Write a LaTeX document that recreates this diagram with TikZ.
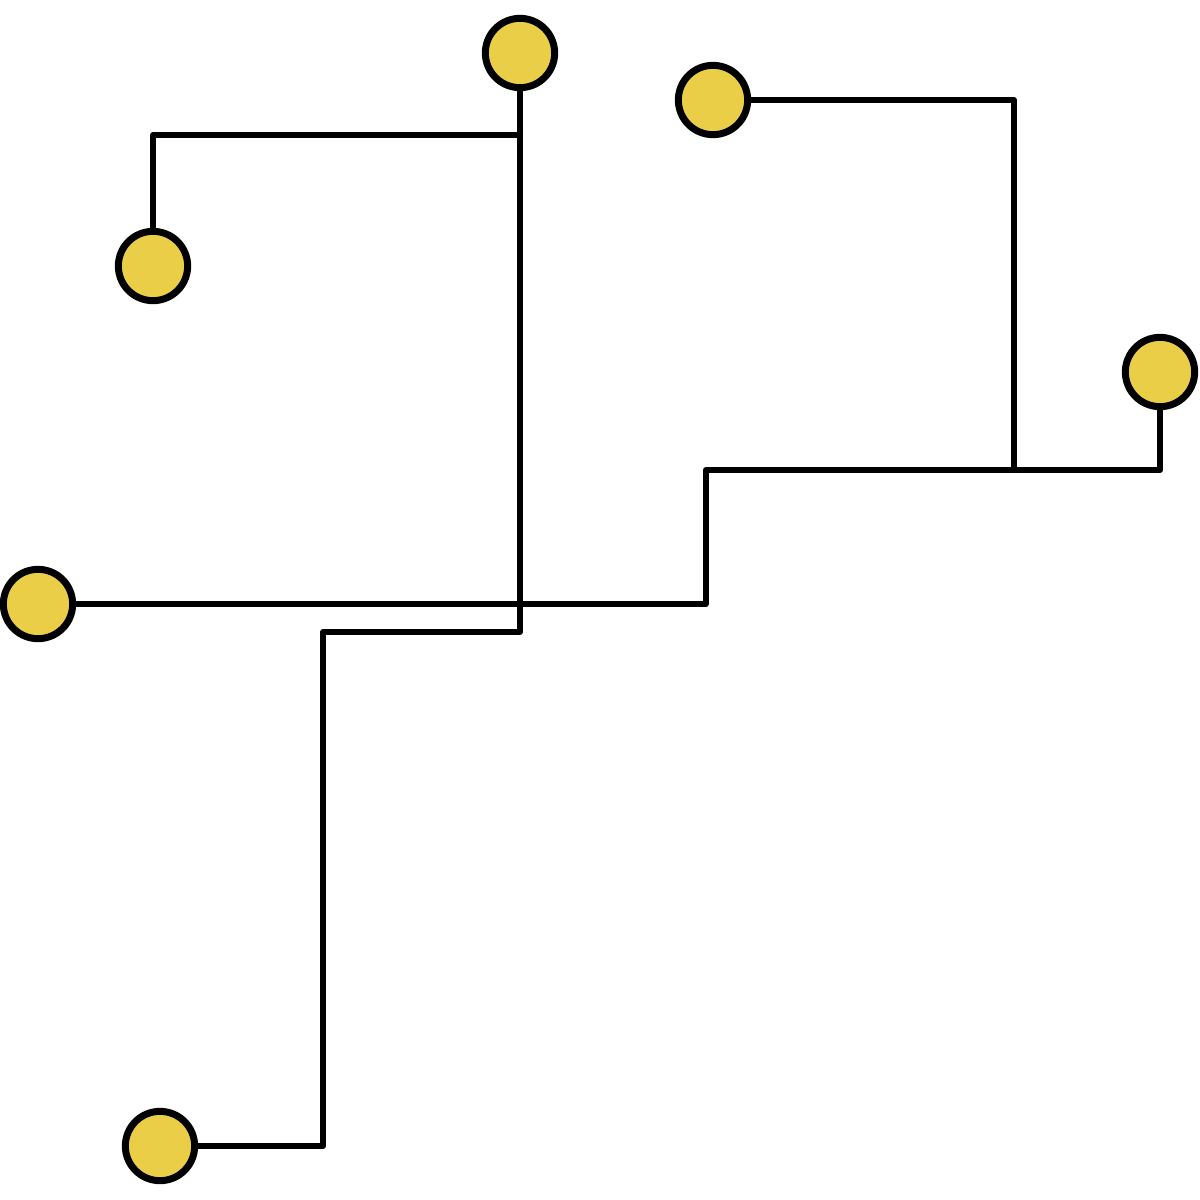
\documentclass[tikz,border=0pt]{standalone}
\definecolor{padyellow}{RGB}{235,206,72}
\tikzset{every picture/.style={line width=0.75pt}}
\tikzset{
  pad/.style={circle, draw=black, fill=padyellow, line width=5.25pt, inner sep=0pt, minimum size=52pt},
  trace/.style={draw=black, line width=4.5pt, line join=round, line cap=round}
}

\begin{document}
\begin{tikzpicture}[x=0.75pt,y=0.75pt,yscale=-1,xscale=1]
\useasboundingbox (0,0) rectangle (1200,1200);

% Pads
\node [pad] (padTop) at (520,53) {};
\node [pad] (padTopLeft) at (153,266) {};
\node [pad] (padTopRight) at (713,100) {};
\node [pad] (padRight) at (1160,372) {};
\node [pad] (padLeft) at (38,604) {};
\node [pad] (padBottom) at (160,1146) {};

% Corners
\coordinate (c1) at (520,135);
\coordinate (c2) at (153,135);
\coordinate (c3) at (520,632);
\coordinate (c4) at (323,632);
\coordinate (c5) at (323,1146);
\coordinate (c6) at (1014,100);
\coordinate (c7) at (1014,470);
\coordinate (c8) at (1160,470);
\coordinate (c9) at (706,470);
\coordinate (c10) at (706,604);

% Traces
\draw [trace] (padTop) -- (c1) -- (c3) -- (c4) -- (c5) -- (padBottom);
\draw [trace] (c1) -- (c2) -- (padTopLeft);
\draw [trace] (padTopRight) -- (c6) -- (c7) -- (c8) -- (padRight);
\draw [trace] (c7) -- (c9) -- (c10) -- (padLeft);

\end{tikzpicture}
\end{document}
